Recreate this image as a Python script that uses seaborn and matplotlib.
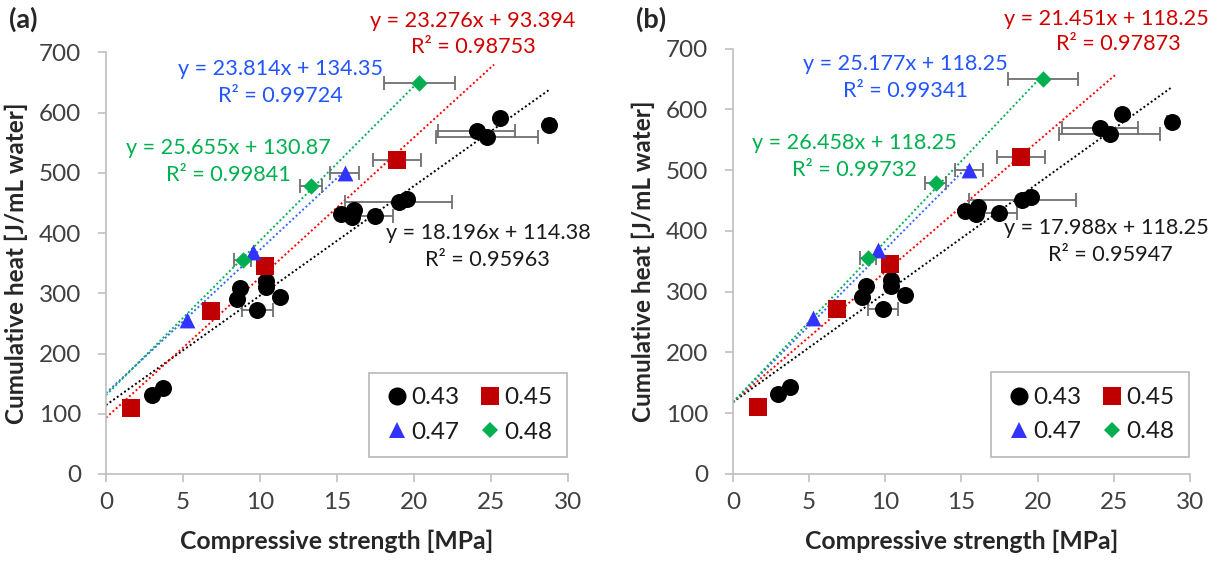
import numpy as np
import pandas as pd
import matplotlib
matplotlib.use("Agg")
import matplotlib.pyplot as plt
from matplotlib.lines import Line2D
import seaborn as sns

# ---------------- data ----------------
groups = ["0.43", "0.45", "0.47", "0.48"]

x43 = [2.97, 3.73, 8.49, 8.71, 9.83, 10.4, 10.4, 11.3, 15.25, 15.96, 16.11, 17.48, 19.0, 19.54, 24.08, 24.73, 25.56, 28.8]
y43 = [131, 143, 291, 309, 272, 320, 310, 294, 432, 427, 439, 429, 451, 456, 570, 560, 592, 579]
e43 = [0, 0, 0, 0, 1.0, 0, 0, 0, 0, 0, 0, 1.15, 3.5, 0, 2.5, 3.3, 0, 0.3]

x45 = [1.62, 6.8, 10.33, 18.89]
y45 = [110, 271, 345, 521]
e45 = [0, 0, 0, 1.57]

x47 = [5.28, 9.53, 15.49]
y47 = [256, 368, 500]
e47 = [0, 0, 0.92]

x48 = [8.88, 13.3, 20.34]
y48 = [356, 479, 650]
e48 = [0.54, 0.7, 2.3]

# trend lines: panel (a) free intercept, panel (b) fixed intercept
slope_a = [18.196, 23.276, 23.814, 25.655]
icpt_a = [114.38, 93.394, 134.35, 130.87]
r2_a = ["0.95963", "0.98753", "0.99724", "0.99841"]
eq_a = ["y = 18.196x + 114.38", "y = 23.276x + 93.394", "y = 23.814x + 134.35", "y = 25.655x + 130.87"]

slope_b = [17.988, 21.451, 25.177, 26.458]
icpt_b = [118.25, 118.25, 118.25, 118.25]
r2_b = ["0.95947", "0.97873", "0.99341", "0.99732"]
eq_b = ["y = 17.988x + 118.25", "y = 21.451x + 118.25", "y = 25.177x + 118.25", "y = 26.458x + 118.25"]

trend_xmax = [28.8, 25.2, 15.5, 20.3]

x_ticks = [0, 5, 10, 15, 20, 25, 30]
y_ticks = [0, 100, 200, 300, 400, 500, 600, 700]

# ---------------- styling ----------------
sns.set_theme(style="white")
plt.rcParams["font.family"] = ["Lato", "DejaVu Sans"]

marker_map = {"0.43": "o", "0.45": "s", "0.47": "^", "0.48": "D"}
color_map = {"0.43": "#000000", "0.45": "#C00000", "0.47": "#3333FF", "0.48": "#00B050"}
size_map = {"0.43": 150, "0.45": 150, "0.47": 130, "0.48": 70}
line_colors = ["#000000", "#FF0000", "#3366FF", "#00B050"]
text_colors = ["#1a1a1a", "#D00000", "#2255FF", "#00B050"]

df = pd.concat([
    pd.DataFrame({"x": x43, "y": y43, "xerr": e43, "wc": "0.43"}),
    pd.DataFrame({"x": x45, "y": y45, "xerr": e45, "wc": "0.45"}),
    pd.DataFrame({"x": x47, "y": y47, "xerr": e47, "wc": "0.47"}),
    pd.DataFrame({"x": x48, "y": y48, "xerr": e48, "wc": "0.48"}),
], ignore_index=True)

fig = plt.figure(figsize=(12.17, 5.62), dpi=100)
ax_a = fig.add_axes([0.0871, 0.1566, 0.3796, 0.750])
ax_b = fig.add_axes([0.6023, 0.1566, 0.3755, 0.757])

text_pos_a = [(24.8, 400, 355), (23.83, 752, 709), (11.3, 672, 627), (7.92, 541, 497)]
text_pos_b = [(24.8, 405, 361), (25.3, 749, 707), (11.34, 674, 630), (7.95, 544, 500)]

eq_texts = []

def draw_panel(ax, slopes, icpts, eqs, r2s, tpos, label):
    # trend lines
    for i, g in enumerate(groups):
        xs = np.linspace(0, trend_xmax[i], 50)
        ax.plot(xs, slopes[i] * xs + icpts[i], color=line_colors[i], lw=1.4,
                linestyle=(0, (1, 1.3)), zorder=1)
    # error bars
    for g in groups:
        sub = df[(df.wc == g) & (df.xerr > 0)]
        ax.errorbar(sub.x, sub.y, xerr=sub.xerr, fmt="none", ecolor="#707070",
                    elinewidth=1.3, capsize=5, capthick=1.3, zorder=2)
    # points
    for g in groups:
        sns.scatterplot(data=df[df.wc == g], x="x", y="y", color=color_map[g],
                        marker=marker_map[g], s=size_map[g], linewidth=0,
                        ax=ax, zorder=3, legend=False)
    # equations
    for i in range(4):
        x0, ye, yr = tpos[i]
        t1 = ax.text(x0, ye, eqs[i], color=text_colors[i], fontsize=15.6, ha="center",
                     va="center", clip_on=False)
        t2 = ax.text(x0, yr, "R² = " + r2s[i], color=text_colors[i], fontsize=15.6,
                     ha="center", va="center", clip_on=False)
        eq_texts.extend([t1, t2])

    ax.set_xlim(0, 30)
    ax.set_ylim(0, 700)
    ax.set_xticks(x_ticks)
    ax.set_yticks(y_ticks)
    for s in ["top", "right"]:
        ax.spines[s].set_visible(False)
    for s in ["left", "bottom"]:
        ax.spines[s].set_color("#BFBFBF")
        ax.spines[s].set_linewidth(1.2)
    ax.tick_params(axis="both", which="major", direction="out", length=6, width=1.2,
                   color="#BFBFBF", labelsize=17.5, labelcolor="#404040",
                   bottom=True, left=True)
    ax.tick_params(axis="y", pad=12)
    ax.tick_params(axis="x", pad=7)
    ax.set_xlabel("Compressive strength [MPa]", fontsize=17.8, fontweight="bold", labelpad=12)
    ax.set_ylabel("Cumulative heat [J/mL water]", fontsize=17.5, fontweight="bold", labelpad=8)
    ax.grid(False)

    handles = []
    for g in ["0.43", "0.47", "0.45", "0.48"]:
        ms = {"o": 13, "s": 12.5, "^": 12, "D": 8}[marker_map[g]]
        handles.append(Line2D([], [], linestyle="none", marker=marker_map[g],
                              color=color_map[g], markersize=ms, markeredgewidth=0,
                              label=g))
    leg = ax.legend(handles=handles, ncol=2, loc="lower right",
                    bbox_to_anchor=(0.998, 0.04), fontsize=17.5, frameon=True,
                    fancybox=False, edgecolor="#A6A6A6", handletextpad=0.0,
                    columnspacing=0.7, labelspacing=0.55, borderpad=0.6,
                    handlelength=1.15, borderaxespad=0)
    leg.get_frame().set_linewidth(1.2)
    for t in leg.get_texts():
        t.set_color("#1a1a1a")

    fig.text(ax.get_position().x0 - 0.08, 0.966, label, fontsize=19.5,
             fontweight="bold", ha="left", va="center")

draw_panel(ax_a, slope_a, icpt_a, eq_a, r2_a, text_pos_a, "(a)")
draw_panel(ax_b, slope_b, icpt_b, eq_b, r2_b, text_pos_b, "(b)")

# keep every annotation inside the figure
fig.canvas.draw()
renderer = fig.canvas.get_renderer()
fig_w = fig.bbox.width
for t in eq_texts:
    bb = t.get_window_extent(renderer)
    overflow = bb.x1 - (fig_w - 8)
    if overflow > 0:
        ax = t.axes
        xd, yd = t.get_position()
        disp = ax.transData.transform((xd, yd))
        new = ax.transData.inverted().transform((disp[0] - overflow, disp[1]))
        t.set_position((new[0], yd))

fig.savefig("out.png", dpi=100)
